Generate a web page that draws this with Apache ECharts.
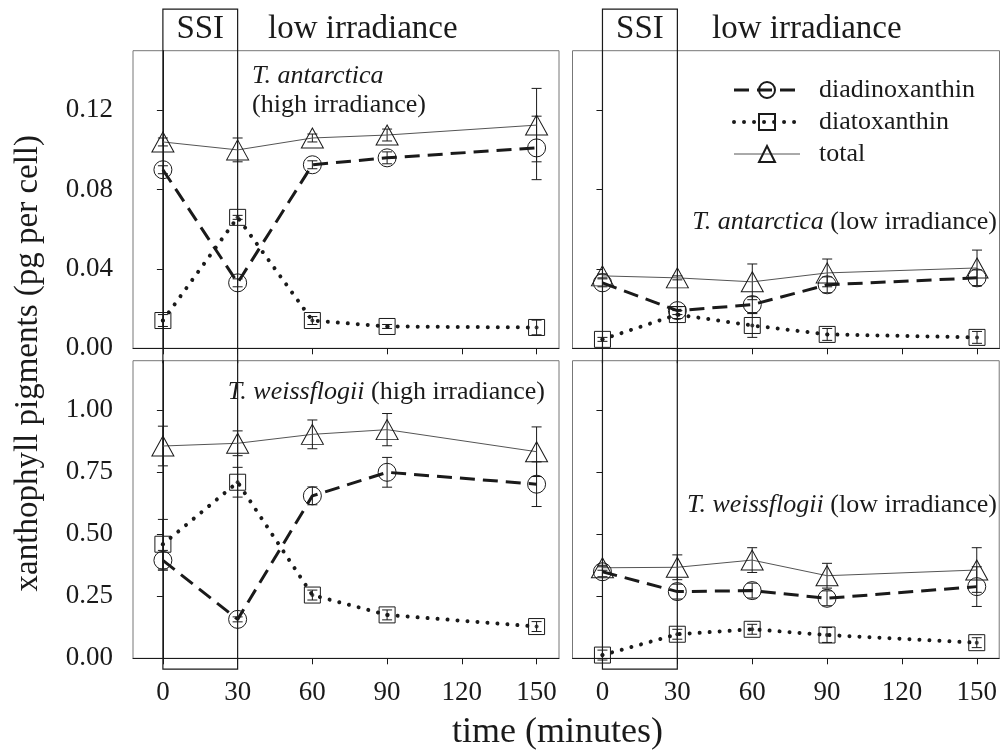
<!DOCTYPE html>
<html>
<head>
<meta charset="utf-8">
<script src="https://cdn.jsdelivr.net/npm/echarts@6/dist/echarts.min.js"></script>
<style>
  html, body { margin: 0; padding: 0; background: #fff; }
  #main { width: 1000px; height: 755px; }
</style>
</head>
<body>
<div id="main"></div>
<script>
// sampling times (minutes) and axis ticks
var times = [0, 30, 60, 90, 150];
var xTicks = [0, 30, 60, 90, 120, 150];
var yTicksTop = [0, 0.04, 0.08, 0.12];
var yTicksBottom = [0, 0.25, 0.5, 0.75, 1.0];
var ssiWindow = [0, 30];

// T. antarctica, high irradiance
var antHighDiad = [0.090, 0.033, 0.0925, 0.096, 0.101];
var antHighDiadErr = [0.002, 0.002, 0.002, 0.003, 0.016];
var antHighDiat = [0.014, 0.066, 0.014, 0.011, 0.0105];
var antHighDiatErr = [0.003, 0.001, 0.002, 0.001, 0.0037];
var antHighTotal = [0.104, 0.100, 0.106, 0.1075, 0.1125];
var antHighTotalErr = [0.002, 0.006, 0.002, 0.003, 0.0185];

// T. antarctica, low irradiance
var antLowDiad = [0.033, 0.019, 0.022, 0.032, 0.0355];
var antLowDiadErr = [0.002, 0.002, 0.004, 0.004, 0.004];
var antLowDiat = [0.0045, 0.017, 0.0115, 0.007, 0.0055];
var antLowDiatErr = [0.001, 0.002, 0.006, 0.003, 0.003];
var antLowTotal = [0.0365, 0.0355, 0.0335, 0.038, 0.0405];
var antLowTotalErr = [0.001, 0.001, 0.009, 0.007, 0.009];

// T. weissflogii, high irradiance
var weissHighDiad = [0.395, 0.157, 0.655, 0.750, 0.702];
var weissHighDiadErr = [0.04, 0.01, 0.036, 0.06, 0.09];
var weissHighDiat = [0.46, 0.71, 0.255, 0.175, 0.128];
var weissHighDiatErr = [0.10, 0.06, 0.02, 0.02, 0.02];
var weissHighTotal = [0.856, 0.867, 0.903, 0.922, 0.833];
var weissHighTotalErr = [0.08, 0.05, 0.058, 0.065, 0.10];

// T. weissflogii, low irradiance
var weissLowDiad = [0.349, 0.269, 0.273, 0.242, 0.289];
var weissLowDiadErr = [0.02, 0.03, 0.03, 0.03, 0.08];
var weissLowDiat = [0.013, 0.097, 0.117, 0.094, 0.063];
var weissLowDiatErr = [0.02, 0.02, 0.02, 0.03, 0.02];
var weissLowTotal = [0.365, 0.367, 0.396, 0.333, 0.356];
var weissLowTotalErr = [0.01, 0.05, 0.05, 0.05, 0.09];

var FONT = 'Liberation Serif';
var INK = '#1a1a1a';

var panels = [
  { diad: antHighDiad, diadErr: antHighDiadErr, diat: antHighDiat, diatErr: antHighDiatErr, total: antHighTotal, totalErr: antHighTotalErr },
  { diad: antLowDiad, diadErr: antLowDiadErr, diat: antLowDiat, diatErr: antLowDiatErr, total: antLowTotal, totalErr: antLowTotalErr },
  { diad: weissHighDiad, diadErr: weissHighDiadErr, diat: weissHighDiat, diatErr: weissHighDiatErr, total: weissHighTotal, totalErr: weissHighTotalErr },
  { diad: weissLowDiad, diadErr: weissLowDiadErr, diat: weissLowDiat, diatErr: weissLowDiatErr, total: weissLowTotal, totalErr: weissLowTotalErr }
];

var diadLine = { color: INK, width: 3, type: [15, 8] };
var diatLine = { color: INK, width: 4, type: [0.01, 10], cap: 'round' };
var totalLine = { color: '#555', width: 1 };

function pairs(vals) {
  return times.map(function (t, i) { return [t, vals[i]]; });
}
function errRows(vals, errs) {
  return times.map(function (t, i) { return [t, vals[i] - errs[i], vals[i] + errs[i]]; });
}

// error bar: vertical whisker with caps
function errorBarItem(params, api) {
  var x = api.value(0);
  var lo = api.coord([x, api.value(1)]);
  var hi = api.coord([x, api.value(2)]);
  var s = { stroke: INK, lineWidth: 1 };
  return {
    type: 'group',
    children: [
      { type: 'line', shape: { x1: lo[0], y1: lo[1], x2: hi[0], y2: hi[1] }, style: s },
      { type: 'line', shape: { x1: lo[0] - 5, y1: lo[1], x2: lo[0] + 5, y2: lo[1] }, style: s },
      { type: 'line', shape: { x1: hi[0] - 5, y1: hi[1], x2: hi[0] + 5, y2: hi[1] }, style: s }
    ]
  };
}

// SSI box, upper half (with label) lives in the top grids
function ssiTopItem(params, api) {
  var a = api.coord([api.value(0), 0.171]);
  var b = api.coord([api.value(1), -0.0075]);
  return {
    type: 'group',
    children: [
      { type: 'polyline', shape: { points: [[a[0], b[1]], [a[0], a[1]], [b[0], a[1]], [b[0], b[1]]] },
        style: { stroke: INK, lineWidth: 1.2, fill: 'none' } },
      { type: 'text', style: { text: 'SSI', x: (a[0] + b[0]) / 2, y: a[1] + 20, fill: INK,
        fontSize: 33, fontFamily: FONT, align: 'center', verticalAlign: 'middle',
        textAlign: 'center', textVerticalAlign: 'middle' } }
    ]
  };
}
// SSI box, lower half in the bottom grids
function ssiBottomItem(params, api) {
  var a = api.coord([api.value(0), 1.2]);
  var b = api.coord([api.value(1), -0.044]);
  return {
    type: 'polyline',
    shape: { points: [[a[0], a[1]], [a[0], b[1]], [b[0], b[1]], [b[0], a[1]]] },
    style: { stroke: INK, lineWidth: 1.2, fill: 'none' }
  };
}

var grids = [
  { left: 133, top: 50.7, width: 426, height: 297.6 },
  { left: 572.5, top: 50.7, width: 427, height: 297.6 },
  { left: 133, top: 360.7, width: 426, height: 297.6 },
  { left: 572.5, top: 360.7, width: 427, height: 297.6 }
].map(function (g) {
  g.show = true; g.borderColor = '#777'; g.borderWidth = 1; g.containLabel = false;
  return g;
});

var xAxes = [0, 1, 2, 3].map(function (i) {
  return {
    type: 'value', gridIndex: i, min: -12, max: 159,
    axisLine: { onZero: false, lineStyle: { color: INK, width: 1 } },
    axisTick: { customValues: xTicks, length: 6, lineStyle: { color: INK } },
    axisLabel: { show: i >= 2, customValues: xTicks, fontSize: 27, fontFamily: FONT, color: INK, margin: 21 },
    splitLine: { show: false }
  };
});

var yAxes = [0, 1, 2, 3].map(function (i) {
  var top = i < 2;
  return {
    type: 'value', gridIndex: i, min: 0, max: top ? 0.15 : 1.2,
    axisLine: { show: true, lineStyle: { color: INK, width: 1 } },
    axisTick: { show: true, customValues: top ? yTicksTop : yTicksBottom, length: 6, lineStyle: { color: INK } },
    axisLabel: { show: i % 2 === 0, customValues: top ? yTicksTop : yTicksBottom,
      formatter: function (v) { return v.toFixed(2); },
      fontSize: 27, fontFamily: FONT, color: INK, margin: 20 },
    splitLine: { show: false }
  };
});

var series = [];
panels.forEach(function (p, i) {
  var ax = { xAxisIndex: i, yAxisIndex: i };
  series.push(Object.assign({
    name: 'diadinoxanthin', type: 'line', data: pairs(p.diad),
    symbol: 'circle', symbolSize: 18,
    itemStyle: { color: 'transparent', borderColor: INK, borderWidth: 1 },
    lineStyle: diadLine, z: 3
  }, ax));
  series.push(Object.assign({
    name: 'diatoxanthin', type: 'line', data: pairs(p.diat),
    symbol: 'rect', symbolSize: 16,
    itemStyle: { color: 'transparent', borderColor: INK, borderWidth: 1 },
    lineStyle: diatLine, z: 3
  }, ax));
  series.push(Object.assign({
    name: 'total', type: 'line', data: pairs(p.total),
    symbol: 'triangle', symbolSize: [22, 20],
    itemStyle: { color: 'transparent', borderColor: INK, borderWidth: 1 },
    lineStyle: totalLine, z: 3
  }, ax));
  series.push(Object.assign({
    name: 'diat-dot', type: 'scatter', data: pairs(p.diat),
    symbol: 'circle', symbolSize: 4, itemStyle: { color: INK }, z: 4
  }, ax));
  series.push(Object.assign({
    name: 'err', type: 'custom', renderItem: errorBarItem,
    data: errRows(p.diad, p.diadErr).concat(errRows(p.diat, p.diatErr), errRows(p.total, p.totalErr)),
    encode: { x: 0, y: [1, 2] }, z: 2
  }, ax));
  series.push(Object.assign({
    name: 'ssi', type: 'custom', clip: false,
    renderItem: i < 2 ? ssiTopItem : ssiBottomItem,
    data: [ssiWindow], encode: { x: [0, 1] }, silent: true, z: 1
  }, ax));
});

var chart = echarts.init(document.getElementById('main'));
chart.setOption({
  backgroundColor: '#fff',
  animation: false,
  grid: grids,
  xAxis: xAxes,
  yAxis: yAxes,
  legend: {
    data: [
      { name: 'diadinoxanthin', lineStyle: diadLine },
      { name: 'diatoxanthin', lineStyle: diatLine },
      { name: 'total', lineStyle: totalLine }
    ],
    orient: 'vertical', left: 727, top: 72,
    itemWidth: 66, itemHeight: 20, itemGap: 6,
    textStyle: { fontSize: 26, fontFamily: FONT, color: INK, padding: [0, 0, 0, 14] }
  },
  graphic: [
    { type: 'text', left: 268, top: 13, style: { text: 'low irradiance', fontSize: 33, fontFamily: FONT, fill: INK } },
    { type: 'text', left: 712, top: 13, style: { text: 'low irradiance', fontSize: 33, fontFamily: FONT, fill: INK } },
    { type: 'text', left: 252, top: 62, style: { text: '{i|T. antarctica}\n(high irradiance)', fontSize: 26, lineHeight: 29, fontFamily: FONT, fill: INK,
      rich: { i: { fontStyle: 'italic', fontSize: 26, fontFamily: FONT, lineHeight: 29 } } } },
    { type: 'text', right: 455, top: 379, style: { text: '{i|T. weissflogii} (high irradiance)', fontSize: 26, fontFamily: FONT, fill: INK,
      rich: { i: { fontStyle: 'italic', fontSize: 26, fontFamily: FONT } } } },
    { type: 'text', right: 3, top: 209, style: { text: '{i|T. antarctica} (low irradiance)', fontSize: 26, fontFamily: FONT, fill: INK,
      rich: { i: { fontStyle: 'italic', fontSize: 26, fontFamily: FONT } } } },
    { type: 'text', right: 3, top: 492, style: { text: '{i|T. weissflogii} (low irradiance)', fontSize: 26, fontFamily: FONT, fill: INK,
      rich: { i: { fontStyle: 'italic', fontSize: 26, fontFamily: FONT } } } },
    { type: 'text', left: 452, top: 715, style: { text: 'time (minutes)', fontSize: 36, fontFamily: FONT, fill: INK } },
    { type: 'text', left: 12, top: 135, rotation: Math.PI / 2,
      style: { text: 'xanthophyll pigments (pg per cell)', fontSize: 33, fontFamily: FONT, fill: INK } }
  ],
  series: series
});
</script>
</body>
</html>
